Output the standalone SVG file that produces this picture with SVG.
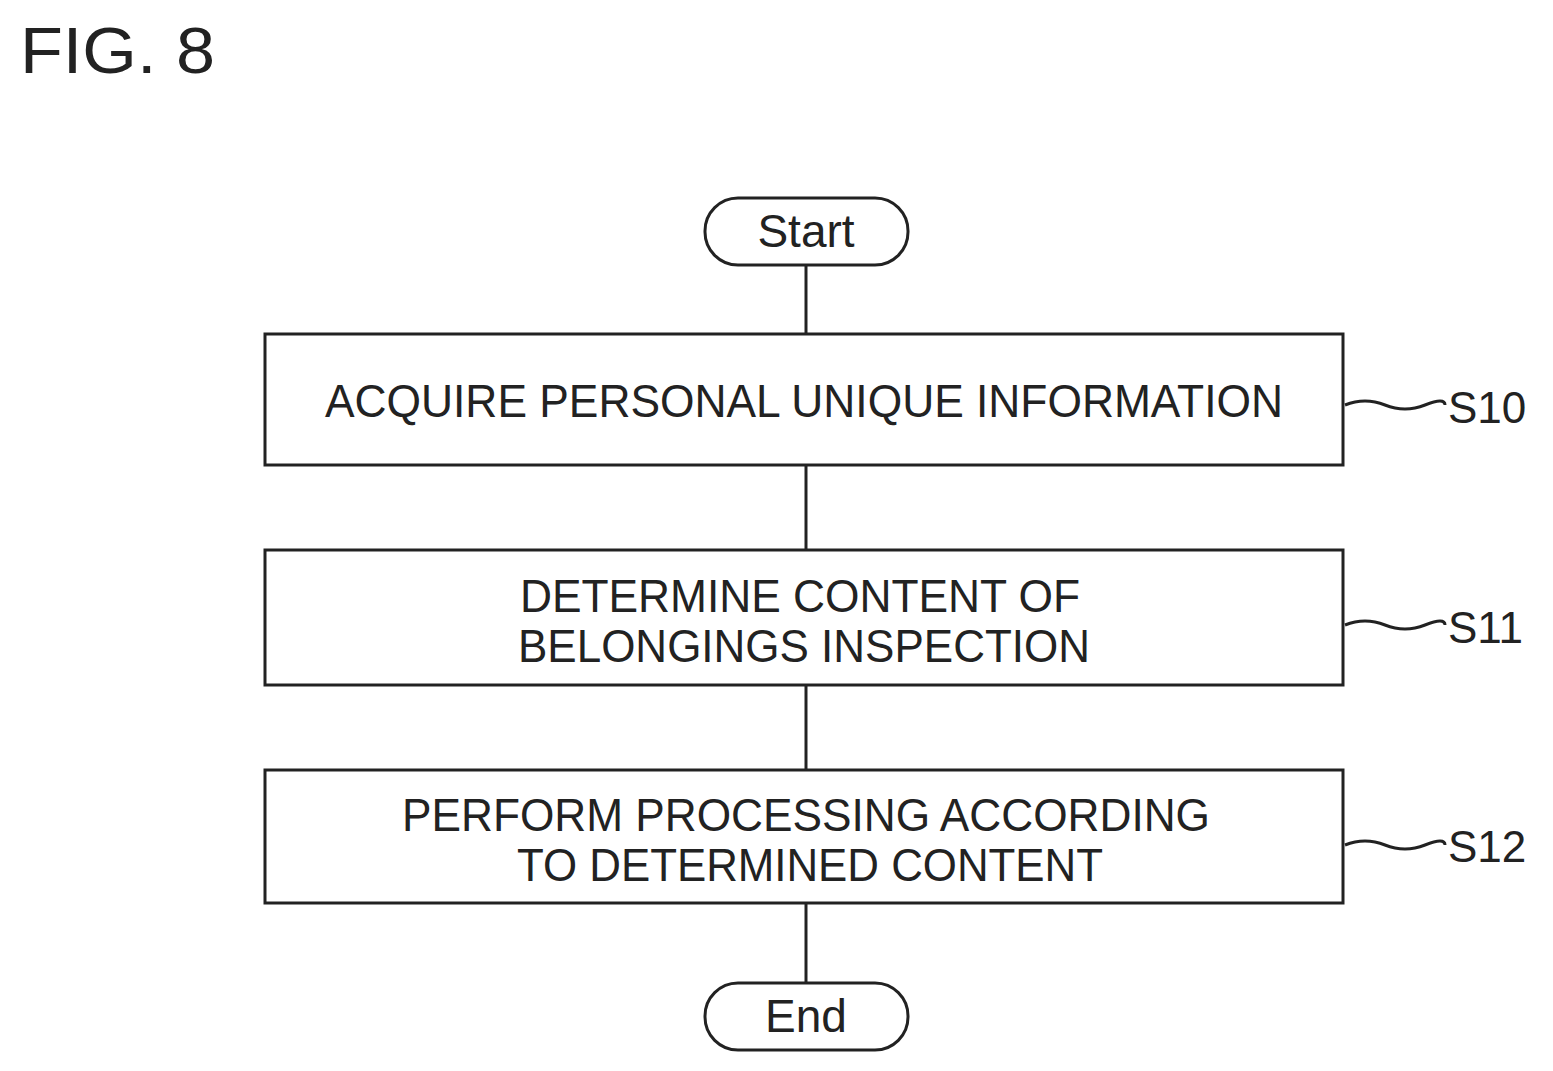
<svg xmlns="http://www.w3.org/2000/svg" width="1553" height="1071" viewBox="0 0 1553 1071">
<style>
.b{fill:#fff;stroke:#222;stroke-width:3}
.t{font-family:"Liberation Sans",Arial,sans-serif;font-size:46px;fill:#222;text-anchor:middle}
.l{font-family:"Liberation Sans",Arial,sans-serif;font-size:44px;fill:#222}
.c{fill:none;stroke:#222;stroke-width:3}
</style>
<rect width="1553" height="1071" fill="#fff"/>
<text x="20" y="73" style="font-family:'Liberation Sans',Arial,sans-serif;font-size:64px;fill:#222" textLength="195" lengthAdjust="spacingAndGlyphs">FIG. 8</text>
<g id="connectors">
<line class="c" x1="806" y1="265" x2="806" y2="334"/>
<line class="c" x1="806" y1="465" x2="806" y2="550"/>
<line class="c" x1="806" y1="685" x2="806" y2="770"/>
<line class="c" x1="806" y1="903" x2="806" y2="983"/>
<path class="c" d="M1345 405 q20 -8 40 0 t40 0 t20 0"/>
<path class="c" d="M1345 625 q20 -8 40 0 t40 0 t20 0"/>
<path class="c" d="M1345 845 q20 -8 40 0 t40 0 t20 0"/>
</g>
<g id="start"><rect class="b" x="705" y="198" width="203" height="67" rx="33"/><text class="t" x="806" y="247">Start</text></g>
<g id="s10"><rect class="b" x="265" y="334" width="1078" height="131"/><text class="t" x="804" y="417" textLength="958" lengthAdjust="spacingAndGlyphs">ACQUIRE PERSONAL UNIQUE INFORMATION</text><text class="l" x="1448" y="423">S10</text></g>
<g id="s11"><rect class="b" x="265" y="550" width="1078" height="135"/><text class="t" x="800" y="612" textLength="560" lengthAdjust="spacingAndGlyphs">DETERMINE CONTENT OF</text><text class="t" x="804" y="662" textLength="572" lengthAdjust="spacingAndGlyphs">BELONGINGS INSPECTION</text><text class="l" x="1448" y="643">S11</text></g>
<g id="s12"><rect class="b" x="265" y="770" width="1078" height="133"/><text class="t" x="806" y="831" textLength="808" lengthAdjust="spacingAndGlyphs">PERFORM PROCESSING ACCORDING</text><text class="t" x="810" y="881" textLength="586" lengthAdjust="spacingAndGlyphs">TO DETERMINED CONTENT</text><text class="l" x="1448" y="862">S12</text></g>
<g id="end"><rect class="b" x="705" y="983" width="203" height="67" rx="33"/><text class="t" x="806" y="1032">End</text></g>
</svg>
